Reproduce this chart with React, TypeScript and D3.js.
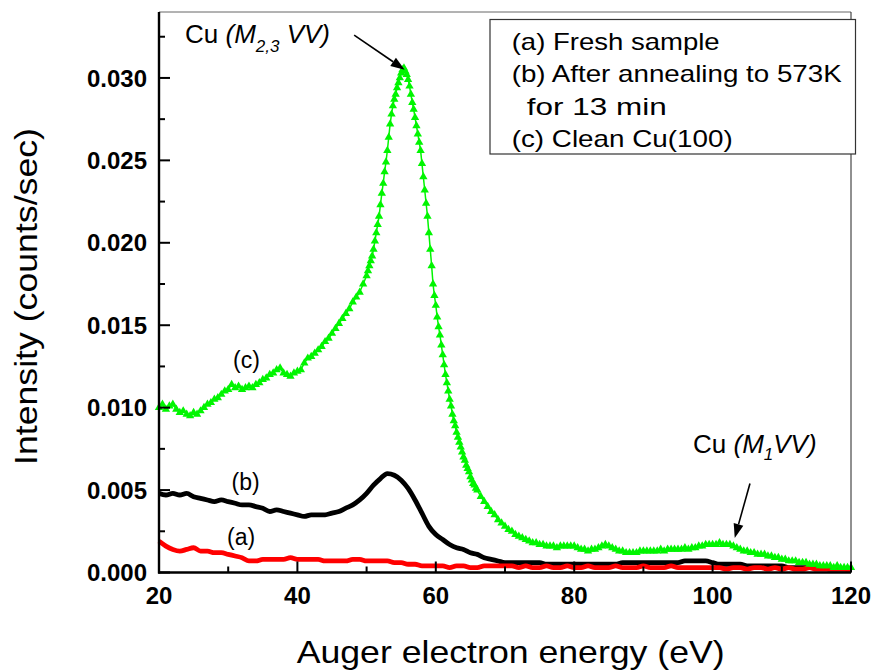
import React from 'react';
import * as d3 from 'd3';

const W = 876;
const H = 671;

// Axis configuration (values)
const X_DOMAIN = [20, 120];
const Y_DOMAIN = [0, 0.034];
const xMajorTicks = [20, 40, 60, 80, 100, 120];
const xMinorTicks = [30, 50, 70, 90, 110];
const xTickLabels = ['20', '40', '60', '80', '100', '120'];
const yMajorTicks = [0, 0.005, 0.01, 0.015, 0.02, 0.025, 0.03];
const yMinorTicks = [0.0025, 0.0075, 0.0125, 0.0175, 0.0225, 0.0275, 0.0325];
const yTickLabels = ['0.000', '0.005', '0.010', '0.015', '0.020', '0.025', '0.030'];

const xTitle = 'Auger electron energy (eV)';
const yTitle = 'Intensity (counts/sec)';
const legendLines = ['(a) Fresh sample', '(b) After annealing to 573K', 'for 13 min', '(c) Clean Cu(100)'];

// (c) Clean Cu(100) — three sampling segments
const GREEN_A_START = 20;
const GREEN_A_STEP = 0.5;
const greenA = [
  0.0100, 0.0102, 0.0099, 0.0101, 0.0102, 0.0099, 0.0097, 0.0098, 0.0096, 0.0095,
  0.0097, 0.0096, 0.0098, 0.0100, 0.0102, 0.0103, 0.0105, 0.0106, 0.0108, 0.0110,
  0.0111, 0.0114, 0.0112, 0.0113, 0.0111, 0.0112, 0.0113, 0.0112, 0.0114, 0.0115,
  0.0117, 0.0118, 0.0120, 0.0121, 0.0123, 0.0124, 0.0121, 0.0120, 0.0119, 0.0121,
  0.0122, 0.0123, 0.0127, 0.0130, 0.0131, 0.0133, 0.0135, 0.0137, 0.0140, 0.0142,
  0.0145, 0.0148, 0.0151, 0.0154, 0.0157, 0.0160, 0.0164, 0.0167, 0.0170, 0.0175,
];
const GREEN_B_START = 50;
const GREEN_B_STEP = 0.2;
const greenB = [
  0.0180, 0.0183, 0.0186, 0.0189, 0.0192, 0.0196, 0.0201, 0.0206, 0.0211, 0.0216,
  0.0223, 0.0230, 0.0236, 0.0243, 0.0249, 0.0256, 0.0264, 0.0272, 0.0278, 0.0283,
  0.0287, 0.0290, 0.0294, 0.0297, 0.0300, 0.0303, 0.0305, 0.0306, 0.0304, 0.0302,
  0.0299, 0.0295, 0.0290, 0.0285, 0.0281, 0.0276, 0.0271, 0.0266, 0.0261, 0.0256,
  0.0248, 0.0240, 0.0232, 0.0224, 0.0216, 0.0206, 0.0196, 0.0186, 0.0175, 0.0168,
  0.0162, 0.0155, 0.0149, 0.0144, 0.0138, 0.0132, 0.0126, 0.0120, 0.0115, 0.0110,
  0.0105, 0.0101, 0.0096, 0.0092, 0.0089, 0.0085, 0.0082, 0.0079, 0.0076, 0.0073,
  0.0070, 0.0068, 0.0065, 0.0063, 0.0061, 0.0058, 0.0056, 0.0054, 0.0053, 0.0051,
  0.0050,
];
const GREEN_C_START = 66.5;
const GREEN_C_STEP = 0.5;
const greenC = [
  0.0046, 0.0043, 0.0040, 0.0037, 0.0035, 0.0032, 0.0030, 0.0028, 0.0026, 0.0025,
  0.0023, 0.0022, 0.0021, 0.0020, 0.0019, 0.0018, 0.0018, 0.0017, 0.0017, 0.0016,
  0.0016, 0.0016, 0.0015, 0.0016, 0.0016, 0.0016, 0.0016, 0.0016, 0.0015, 0.0014,
  0.0014, 0.0013, 0.0014, 0.0014, 0.0015, 0.0016, 0.0017, 0.0016, 0.0015, 0.0014,
  0.0013, 0.0013, 0.0012, 0.0012, 0.0012, 0.0012, 0.0013, 0.0013, 0.0013, 0.0013,
  0.0013, 0.0013, 0.0014, 0.0013, 0.0014, 0.0014, 0.0014, 0.0014, 0.0014, 0.0015,
  0.0014, 0.0015, 0.0015, 0.0016, 0.0016, 0.0017, 0.0017, 0.0017, 0.0017, 0.0018,
  0.0017, 0.0017, 0.0017, 0.0016, 0.0015, 0.0014, 0.0013, 0.0013, 0.0012, 0.0012,
  0.0011, 0.0011, 0.0011, 0.0010, 0.0010, 0.0009, 0.0009, 0.0008, 0.0008, 0.0007,
  0.0007, 0.0007, 0.0006, 0.0006, 0.0006, 0.0005, 0.0005, 0.0005, 0.0004, 0.0004,
  0.0004, 0.0004, 0.0003, 0.0004, 0.0003, 0.0003, 0.0003, 0.0003,
];

// (b) After annealing — 1 eV sampling from 20 eV
const BLACK_START = 20;
const BLACK_STEP = 1;
const blackValues = [
  0.0048, 0.0047, 0.0048, 0.0047, 0.0048, 0.0046, 0.0045, 0.0044, 0.0043, 0.0044,
  0.0043, 0.0042, 0.0041, 0.0041, 0.0040, 0.0039, 0.0037, 0.0038, 0.0037, 0.0036,
  0.0035, 0.0034, 0.0035, 0.0035, 0.0035, 0.0036, 0.0037, 0.0039, 0.0041, 0.0044,
  0.0048, 0.0053, 0.0057, 0.0060, 0.0059, 0.0056, 0.0051, 0.0044, 0.0036, 0.0028,
  0.0023, 0.0020, 0.0017, 0.0015, 0.0014, 0.0012, 0.0011, 0.0009, 0.0008, 0.0007,
  0.0006, 0.0006, 0.0006, 0.0006, 0.0006, 0.0006, 0.0005, 0.0005, 0.0005, 0.0005,
  0.0005, 0.0005, 0.0005, 0.0005, 0.0005, 0.0005, 0.0005, 0.0006, 0.0006, 0.0006,
  0.0006, 0.0006, 0.0006, 0.0006, 0.0006, 0.0006, 0.0007, 0.0007, 0.0007, 0.0007,
  0.0006, 0.0005, 0.0005, 0.0005, 0.0005, 0.0004, 0.0004, 0.0004, 0.0004, 0.0004,
  0.0004, 0.0003, 0.0003, 0.0003, 0.0003, 0.0003, 0.0003, 0.0002, 0.0002, 0.0002,
  0.0002,
];

// (a) Fresh sample — 1 eV sampling from 20 eV
const RED_START = 20;
const RED_STEP = 1;
const redValues = [
  0.0019, 0.0016, 0.0014, 0.0013, 0.0014, 0.0015, 0.0013, 0.0013, 0.0012, 0.0012,
  0.0011, 0.0010, 0.0009, 0.0007, 0.0007, 0.0008, 0.0008, 0.0008, 0.0008, 0.0009,
  0.0008, 0.0008, 0.0008, 0.0008, 0.0007, 0.0007, 0.0007, 0.0007, 0.0008, 0.0008,
  0.0007, 0.0007, 0.0007, 0.0007, 0.0006, 0.0006, 0.0005, 0.0005, 0.0004, 0.0004,
  0.0004, 0.0004, 0.0003, 0.0004, 0.0004, 0.0003, 0.0003, 0.0004, 0.0004, 0.0004,
  0.0004, 0.0004, 0.0003, 0.0004, 0.0003, 0.0003, 0.0004, 0.0003, 0.0003, 0.0004,
  0.0003, 0.0003, 0.0004, 0.0003, 0.0003, 0.0003, 0.0004, 0.0003, 0.0003, 0.0003,
  0.0004, 0.0003, 0.0003, 0.0003, 0.0004, 0.0003, 0.0003, 0.0003, 0.0003, 0.0003,
  0.0003, 0.0003, 0.0002, 0.0003, 0.0003, 0.0002, 0.0003, 0.0003, 0.0002, 0.0003,
  0.0002, 0.0003, 0.0002, 0.0002, 0.0003, 0.0002, 0.0002, 0.0002, 0.0002, 0.0002,
  0.0001,
];

// Annotation arrows (data coordinates)
const arrowM23 = { from: [48.2, 0.0326], to: [55.5, 0.0305] };
const arrowM1 = { from: [105.4, 0.0054], to: [103.2, 0.0021] };

type Pt = [number, number];
const toPts = (start: number, step: number, vals: number[]): Pt[] =>
  vals.map((v, i) => [start + i * step, v]);

const greenPts: Pt[] = [
  ...toPts(GREEN_A_START, GREEN_A_STEP, greenA),
  ...toPts(GREEN_B_START, GREEN_B_STEP, greenB),
  ...toPts(GREEN_C_START, GREEN_C_STEP, greenC),
];
const blackPts = toPts(BLACK_START, BLACK_STEP, blackValues);
const redPts = toPts(RED_START, RED_STEP, redValues);

const PL = 159, PR = 851, PT = 12, PB = 572.5;
const FONT = '"Liberation Sans", Arial, Helvetica, sans-serif';
const GREEN = '#00f500';

function Arrow({ x1, y1, x2, y2 }: { x1: number; y1: number; x2: number; y2: number }) {
  const ang = Math.atan2(y2 - y1, x2 - x1);
  const L = 14, Wd = 5;
  const bx = x2 - L * Math.cos(ang), by = y2 - L * Math.sin(ang);
  const px = -Math.sin(ang) * Wd, py = Math.cos(ang) * Wd;
  return (
    <g>
      <line x1={x1} y1={y1} x2={bx} y2={by} stroke="#000" strokeWidth={1.6} />
      <polygon points={`${x2},${y2} ${bx + px},${by + py} ${bx - px},${by - py}`} fill="#000" />
    </g>
  );
}

export default function App() {
  const x = d3.scaleLinear().domain(X_DOMAIN).range([PL, PR]);
  const y = d3.scaleLinear().domain(Y_DOMAIN).range([PB, PT]);
  const line = d3.line<Pt>().x((d) => x(d[0])).y((d) => y(d[1]));
  const smooth = d3.line<Pt>().x((d) => x(d[0])).y((d) => y(d[1])).curve(d3.curveMonotoneX);
  const tri = d3.symbol().type(d3.symbolTriangle).size(30)();

  return (
    <svg width={W} height={H} style={{ position: 'absolute', left: 0, top: 0, background: '#fff' }} fontFamily={FONT}>
      <rect x={0} y={0} width={W} height={H} fill="#fff" />
      {/* frame */}
      <line x1={PL} y1={PT} x2={PR} y2={PT} stroke="#666" strokeWidth={1} />
      <line x1={PR} y1={PT} x2={PR} y2={PB} stroke="#222" strokeWidth={1} />

      {/* curves */}
      <path d={smooth(blackPts) || ''} fill="none" stroke="#000" strokeWidth={4.8} strokeLinejoin="round" />
      <path d={smooth(redPts) || ''} fill="none" stroke="#f00" strokeWidth={4.8} strokeLinejoin="round" />
      <path d={line(greenPts) || ''} fill="none" stroke={GREEN} strokeWidth={1.5} />
      <g fill={GREEN}>
        {greenPts.map((d, i) => (
          <path key={i} d={tri || ''} transform={`translate(${x(d[0])},${y(d[1])})`} />
        ))}
      </g>

      {/* axes */}
      <line x1={PL} y1={PT} x2={PL} y2={PB + 1} stroke="#000" strokeWidth={2.4} />
      <line x1={PL - 1} y1={PB} x2={PR} y2={PB} stroke="#000" strokeWidth={2.4} />
      {yMajorTicks.map((t, i) => (
        <g key={'ym' + i}>
          <line x1={PL} x2={PL + 11} y1={y(t)} y2={y(t)} stroke="#000" strokeWidth={2} />
          <text x={147} y={y(t)} dy="0.36em" textAnchor="end" fontSize={24} fontWeight="bold">
            {yTickLabels[i]}
          </text>
        </g>
      ))}
      {yMinorTicks.map((t, i) => (
        <line key={'yn' + i} x1={PL} x2={PL + 6} y1={y(t)} y2={y(t)} stroke="#000" strokeWidth={2} />
      ))}
      {xMajorTicks.map((t, i) => (
        <g key={'xm' + i}>
          <line x1={x(t)} x2={x(t)} y1={PB} y2={PB - 11} stroke="#000" strokeWidth={2} />
          <text x={x(t)} y={604} textAnchor="middle" fontSize={24} fontWeight="bold">
            {xTickLabels[i]}
          </text>
        </g>
      ))}
      {xMinorTicks.map((t, i) => (
        <line key={'xn' + i} x1={x(t)} x2={x(t)} y1={PB} y2={PB - 6} stroke="#000" strokeWidth={2} />
      ))}

      {/* axis titles */}
      <text x={296.7} y={663} fontSize={32} textLength={428} lengthAdjust="spacingAndGlyphs">
        {xTitle}
      </text>
      <text
        transform={`translate(37,465) rotate(-90)`}
        x={0}
        y={0}
        fontSize={31}
        textLength={337}
        lengthAdjust="spacingAndGlyphs"
      >
        {yTitle}
      </text>

      {/* legend */}
      <rect x={490} y={19.5} width={365.5} height={134.5} fill="#fff" stroke="#333" strokeWidth={1.2} />
      <text x={511.7} y={50} fontSize={24} textLength={208} lengthAdjust="spacingAndGlyphs">{legendLines[0]}</text>
      <text x={511.7} y={81.7} fontSize={24} textLength={330} lengthAdjust="spacingAndGlyphs">{legendLines[1]}</text>
      <text x={526.7} y={115} fontSize={24} textLength={140} lengthAdjust="spacingAndGlyphs">{legendLines[2]}</text>
      <text x={511.7} y={146.7} fontSize={24} textLength={221} lengthAdjust="spacingAndGlyphs">{legendLines[3]}</text>

      {/* curve labels */}
      <text x={233} y={368} fontSize={23}>(c)</text>
      <text x={231.5} y={490} fontSize={23}>(b)</text>
      <text x={227} y={545} fontSize={23}>(a)</text>

      {/* peak annotations */}
      <text x={185} y={43} fontSize={26}>
        <tspan>Cu </tspan>
        <tspan fontStyle="italic">(M</tspan>
        <tspan fontStyle="italic" fontSize={17} dy={9}>2,3</tspan>
        <tspan fontStyle="italic" dy={-9}> VV)</tspan>
      </text>
      <Arrow x1={x(arrowM23.from[0])} y1={y(arrowM23.from[1])} x2={x(arrowM23.to[0])} y2={y(arrowM23.to[1])} />

      <text x={693} y={453} fontSize={26}>
        <tspan>Cu </tspan>
        <tspan fontStyle="italic">(M</tspan>
        <tspan fontStyle="italic" fontSize={17} dy={7}>1</tspan>
        <tspan fontStyle="italic" dy={-7}>VV)</tspan>
      </text>
      <Arrow x1={x(arrowM1.from[0])} y1={y(arrowM1.from[1])} x2={x(arrowM1.to[0])} y2={y(arrowM1.to[1])} />
    </svg>
  );
}
